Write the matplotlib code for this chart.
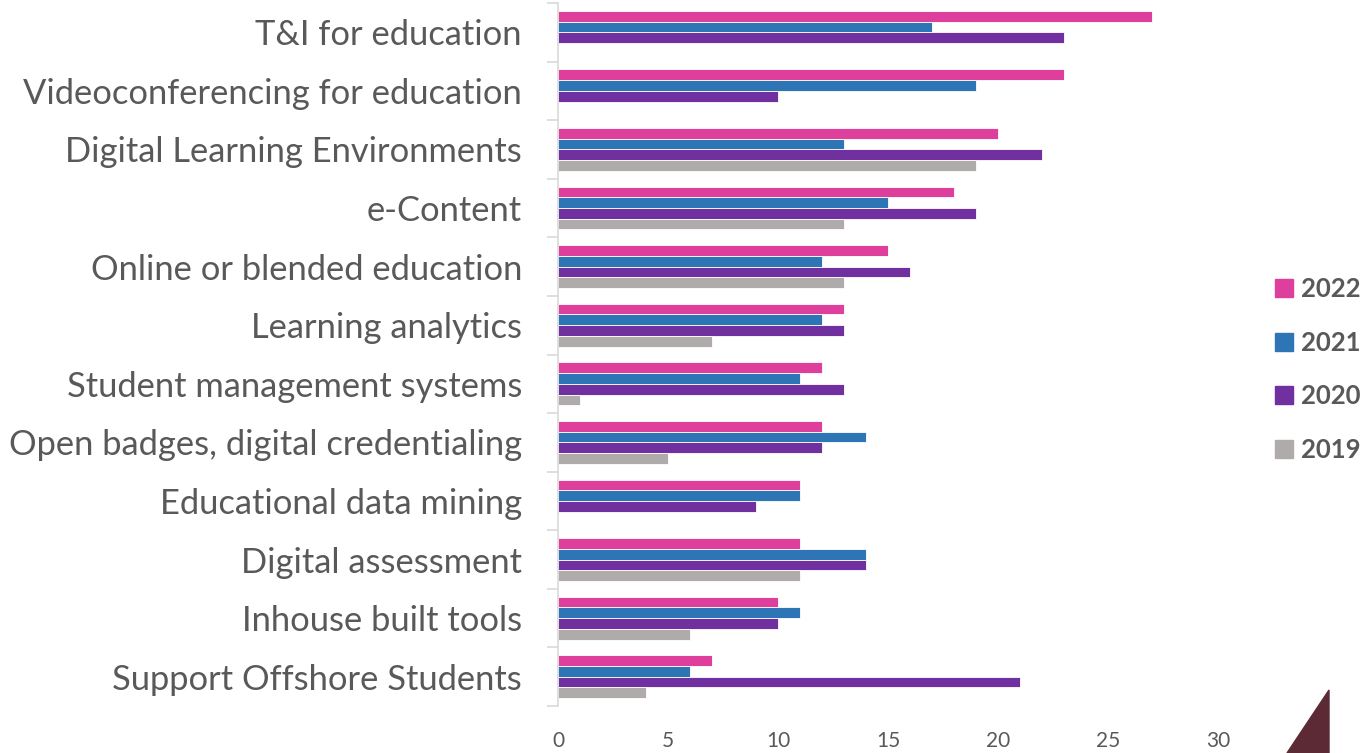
import matplotlib
matplotlib.use('Agg')
import matplotlib.pyplot as plt
from matplotlib.patches import Polygon, Patch
import numpy as np

# =============================================================================
# dados
# =============================================================================
categorias = ['T&I for education', 'Videoconferencing for education',
              'Digital Learning Environments', 'e-Content',
              'Online or blended education', 'Learning analytics',
              'Student management systems', 'Open badges, digital credentialing',
              'Educational data mining', 'Digital assessment',
              'Inhouse built tools', 'Support Offshore Students']
anos = ['2022', '2021', '2020', '2019']
v2022 = [27, 23, 20, 18, 15, 13, 12, 12, 11, 11, 10, 7]
v2021 = [17, 19, 13, 15, 12, 12, 11, 14, 11, 14, 11, 6]
v2020 = [23, 10, 22, 19, 16, 13, 13, 12, 9, 14, 10, 21]
v2019 = [0, 0, 19, 13, 13, 7, 1, 5, 0, 11, 6, 4]
cores = ['#DE3F9C', '#2E75B6', '#7030A0', '#AFABAB']

cinza = '#595959'
plt.rcParams['font.family'] = ['Lato', 'DejaVu Sans']

fig = plt.figure(figsize=(13.67, 7.53), dpi=100)
ax = fig.add_axes([558/1367, 1-706/753, (1218-558)/1367, (706-3)/753])

y = np.arange(len(categorias))
h = 0.183
series = [v2022, v2021, v2020, v2019]
for k, (vals, cor, ano) in enumerate(zip(series, cores, anos)):
    ax.barh(y + (k - 1.5) * h, vals, height=h, color=cor, edgecolor='white',
            linewidth=0.6, label=ano)

ax.set_ylim(len(categorias) - 0.5, -0.5)
ax.set_xlim(0, 30)
ax.set_xticks(range(0, 31, 5))
ax.set_yticks(y)
ax.set_yticklabels(categorias, fontsize=24.8, color=cinza)
ax.set_yticks(np.arange(-0.5, len(categorias)), minor=True)
ax.tick_params(axis='y', which='major', length=0, pad=26)
ax.tick_params(axis='y', which='minor', length=8, color='#D9D9D9', width=1.2)
ax.tick_params(axis='x', length=0, pad=18, labelsize=15, labelcolor=cinza)

for s in ['top', 'right', 'bottom']:
    ax.spines[s].set_visible(False)
ax.spines['left'].set_color('#D9D9D9')
ax.spines['left'].set_linewidth(1.2)

handles = [Patch(color=c, label=a) for c, a in zip(cores, anos)]
fig.legend(handles=handles, loc='center left', bbox_to_anchor=(1275/1367, 1-369.5/753),
           frameon=False, borderpad=0, borderaxespad=0, prop={'weight': 'bold', 'size': 18.5},
           labelcolor=cinza, handlelength=0.7, handleheight=0.7, handletextpad=0.3,
           labelspacing=1.15)

# triangulo decorativo no canto
fig.patches.append(Polygon([(1287/1367, 0), (1329/1367, 1-690/753), (1329/1367, 0)],
                           closed=True, transform=fig.transFigure, color='#5C2A35'))

fig.savefig('out.png', dpi=100)
